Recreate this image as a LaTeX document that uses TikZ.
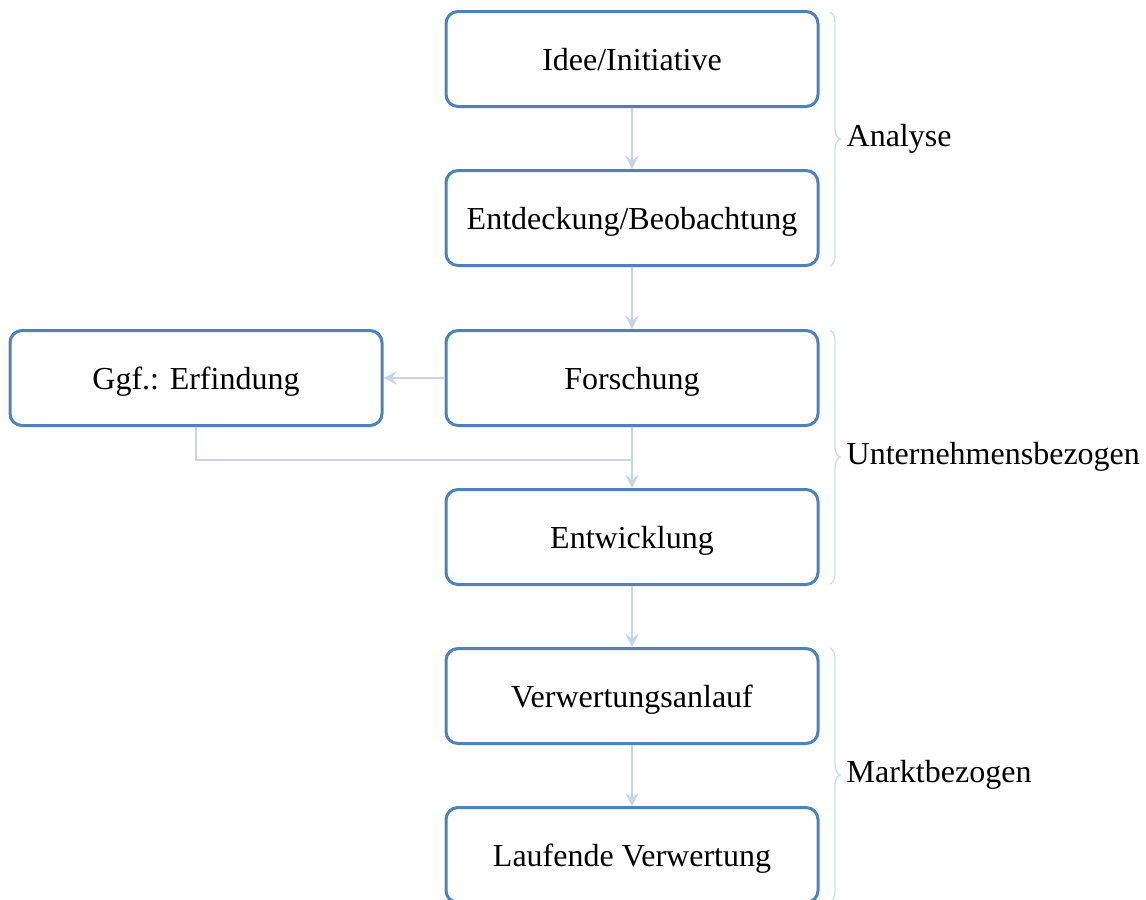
\documentclass[tikz,border=0pt]{standalone}
\usepackage{fontspec}
\setmainfont{Liberation Serif}
\usetikzlibrary{arrows.meta,decorations.pathreplacing}
\definecolor{boxblue}{HTML}{4F81BD}
\definecolor{arrowgray}{HTML}{C9D4E6}
\definecolor{bracegray}{HTML}{D3DBE9}
\tikzset{
  stepbox/.style={draw=boxblue, line width=0.9pt, rounded corners=3.6pt, minimum width=111.6pt, minimum height=28.5pt, inner sep=0pt, text height=7.6pt, text depth=1pt, font=\fontsize{9.6}{11}\selectfont, fill=white},
  flow/.style={draw=arrowgray, line width=0.6pt, -{Stealth[length=4pt,width=4pt,inset=1.5pt]}},
  flowline/.style={draw=arrowgray, line width=0.6pt},
  grpbrace/.style={draw=bracegray, line width=0.4pt, decorate, decoration={brace, amplitude=3pt}},
  grplabel/.style={anchor=west, inner sep=0pt, font=\fontsize{9.6}{11}\selectfont}
}
\begin{document}
\begin{tikzpicture}[x=0.3pt, y=-0.3pt]
\useasboundingbox (0,0) rectangle (1146,899);
\clip (0,0) rectangle (1146,899);
\node[stepbox] (idee) at (632,59) {Idee/Initiative};
\node[stepbox] (entd) at (632,218) {Entdeckung/Beobachtung};
\node[stepbox] (forsch) at (632,378) {Forschung};
\node[stepbox] (ggf) at (196,378) {Ggf.: Erfindung};
\node[stepbox] (entw) at (632,537) {Entwicklung};
\node[stepbox] (anlauf) at (632,696) {Verwertungsanlauf};
\node[stepbox] (lauf) at (632,855) {Laufende Verwertung};
\coordinate (join) at (632,460);
\draw[flow] (idee) -- (entd);
\draw[flow] (entd) -- (forsch);
\draw[flow] (forsch) -- (ggf);
\draw[flow] (forsch) -- (entw);
\draw[flowline] (ggf.south) |- (join);
\draw[flow] (entw) -- (anlauf);
\draw[flow] (anlauf) -- (lauf);
\coordinate (b1t) at (830,12);
\coordinate (b1b) at (830,266);
\coordinate (b2t) at (830,330);
\coordinate (b2b) at (830,584);
\coordinate (b3t) at (830,648);
\coordinate (b3b) at (830,902);
\draw[grpbrace] (b1t) -- (b1b);
\draw[grpbrace] (b2t) -- (b2b);
\draw[grpbrace] (b3t) -- (b3b);
\node[grplabel] (lab1) at (846,139) {Analyse};
\node[grplabel] (lab2) at (846,457) {Unternehmensbezogen};
\node[grplabel] (lab3) at (846,775) {Marktbezogen};
\end{tikzpicture}
\end{document}
